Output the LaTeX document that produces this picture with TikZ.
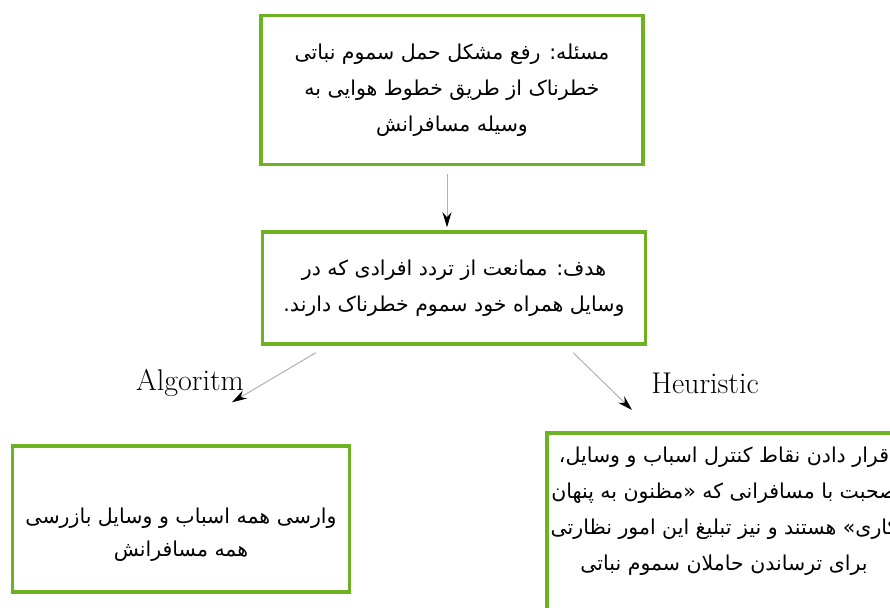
\documentclass[tikz,border=0pt]{standalone}
\usepackage{fontspec}
\newfontfamily\arabicfont[Script=Arabic]{DejaVu Sans}
\TeXXeTstate=1
\usetikzlibrary{arrows.meta}
\definecolor{boxgreen}{RGB}{108,178,34}
\definecolor{shaftgray}{RGB}{178,178,178}
\newcommand{\fatext}[1]{\beginR #1\endR}

\begin{document}
\begin{tikzpicture}[x=1pt,y=-1pt,
	fa/.style={align=center,inner sep=0pt,font=\arabicfont\fontsize{20.5}{36}\selectfont},
	greenbox/.style={fa,draw=boxgreen,line width=3.5pt},
	flow/.style={draw=shaftgray,line width=1pt,-{Stealth[length=15pt,width=9pt,color=black]}},
	tag/.style={font=\fontsize{30}{34}\selectfont}]
	\useasboundingbox[fill=white] (0,0) rectangle (890,607);
	
	\node[greenbox,minimum width=382pt,minimum height=149pt] (problem) at (452,90) {\fatext{مسئله: رفع مشکل حمل سموم نباتی}\\\fatext{خطرناک از طریق خطوط هوایی به}\\\fatext{وسیله مسافرانش}};
	\node[greenbox,minimum width=383pt,minimum height=112pt] (goal) at (454,288) {\fatext{هدف: ممانعت از تردد افرادی که در}\\\fatext{وسایل همراه خود سموم خطرناک دارند.}};
	\node[greenbox,minimum width=337pt,minimum height=146pt,font=\arabicfont\fontsize{20.5}{33}\selectfont] (algo) at (181,519) {\rule{0pt}{46pt}\fatext{وارسی همه اسباب و وسایل بازرسی}\\\fatext{همه مسافرانش}};
	\node[fa] (heur) at (724,511) {\fatext{قرار دادن نقاط کنترل اسباب و وسایل،}\\\fatext{صحبت با مسافرانی که «مظنون به پنهان}\\\fatext{کاری» هستند و نیز تبلیغ این امور نظارتی}\\\fatext{برای ترساندن حاملان سموم نباتی}};
	\draw[draw=boxgreen,line width=3.5pt] (547,433) rectangle (920,630);
	
	\node[tag] (alg) at (190,383) {Algoritm};
	\node[tag] (heu) at (705,383) {Heuristic};
	
	\draw[flow] ([shift={(-5,8)}]problem.south) -- ([shift={(-7,-3)}]goal.north);
	\draw[flow] ([shift={(55,7)}]goal.south west) -- ([shift={(51,-42)}]algo.north);
	\draw[flow] ([shift={(-74,7)}]goal.south east) -- (632,410);
\end{tikzpicture}
\end{document}
